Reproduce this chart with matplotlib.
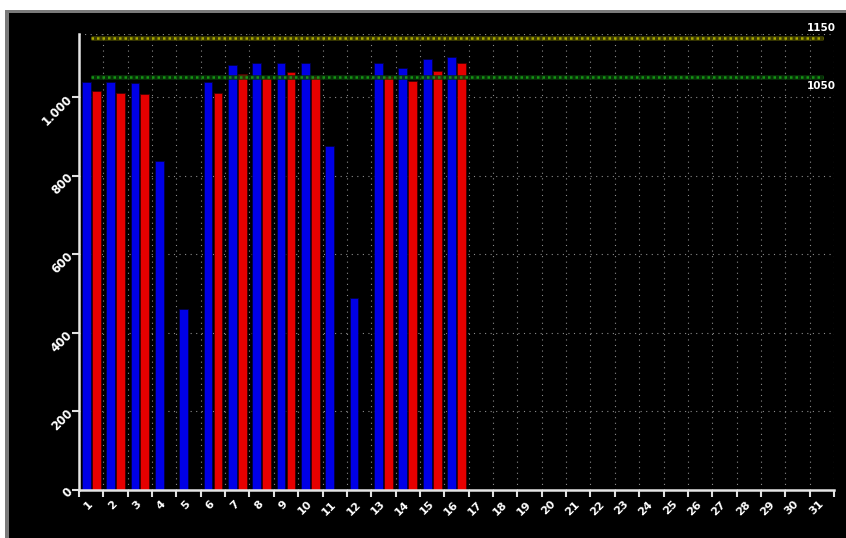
import matplotlib
matplotlib.use("Agg")
import matplotlib.pyplot as plt
from matplotlib.patches import Rectangle
from matplotlib.ticker import FuncFormatter, FixedLocator
import numpy as np

# Days of the month and the two readings per day
days = list(range(1, 32))
blue_values = [1039, 1038, 1036, 837, 460, 1037, 1081, 1085, 1086, 1087,
               875, 489, 1085, 1073, 1096, 1102]
red_values = [1016, 1010, 1008, None, None, 1010, 1059, 1047, 1064, 1052,
              None, None, 1052, 1040, 1067, 1087]
upper_limit = 1150
lower_limit = 1050
y_ticks = [0, 200, 400, 600, 800, 1000]

W, H = 846, 538
fig = plt.figure(figsize=(W / 100, H / 100), dpi=100, facecolor="white")

# Framed dark panel (behind the axes)
fig.patches.append(Rectangle((5 / W, 0), 1 - 5 / W, 1 - 9.5 / H,
                             transform=fig.transFigure, facecolor="#7a7a7a",
                             edgecolor="none", zorder=-2))
fig.patches.append(Rectangle((8.5 / W, 0), 1 - 8.5 / W, 1 - 13 / H,
                             transform=fig.transFigure, facecolor="black",
                             edgecolor="none", zorder=-1))

ax = fig.add_axes([79 / W, 1 - 490 / H, (834 - 79) / W, (490 - 34) / H])
ax.set_facecolor("black")
ax.patch.set_alpha(0)

n = len(days)
xb = np.arange(len(blue_values)) + 0.5
bw = 0.36
ax.bar(xb - 0.205, blue_values, width=bw, color="#0000e6",
       edgecolor="#000040", linewidth=0.6, zorder=3)
red_x = [x + 0.205 for x, v in zip(xb, red_values) if v is not None]
red_v = [v for v in red_values if v is not None]
ax.bar(red_x, red_v, width=bw, color="#e60000",
       edgecolor="#400000", linewidth=0.6, zorder=3)

ax.set_xlim(0, n)
ax.set_ylim(0, 1160)

# Reference limits
x0, x1 = 0.5, n - 0.45
for val, col, dcol in [(upper_limit, "#4a4a00", "#b4b400"),
                       (lower_limit, "#093a09", "#17a017")]:
    ax.plot([x0, x1], [val, val], color=col, linewidth=3.4, alpha=0.8,
            solid_capstyle="butt", zorder=4)
    ax.plot([x0, x1], [val, val], color=dcol, linewidth=1.8, alpha=0.9,
            linestyle=(0, (1, 1.2)), zorder=5)

ax.text(n + 0.07, upper_limit + 12, str(upper_limit), color="white",
        fontsize=7.5, fontweight="bold", ha="right", va="bottom", zorder=6,
        clip_on=False)
ax.text(n + 0.07, lower_limit - 10, str(lower_limit), color="white",
        fontsize=7.5, fontweight="bold", ha="right", va="top", zorder=6,
        clip_on=False)

# Grid on category boundaries and value ticks
for b in range(0, n + 1):
    ax.axvline(b, color="#8c8c8c", linewidth=0.8, linestyle=(0, (1, 4)),
               zorder=1)
for t in y_ticks[1:] + [1160]:
    ax.axhline(t, color="#8c8c8c", linewidth=0.8, linestyle=(0, (1, 4)),
               zorder=1)

ax.xaxis.set_major_locator(FixedLocator(range(0, n + 1)))
ax.set_xticklabels([])
ax.set_xticks([d - 0.5 for d in days], minor=True)
ax.set_xticklabels([str(d) for d in days], minor=True)
ax.tick_params(axis="x", which="minor", length=0, pad=9)
ax.tick_params(axis="x", which="major", length=5, width=1.5, color="#e0e0e0")
for lbl in ax.get_xticklabels(minor=True):
    lbl.set_rotation(45)
    lbl.set_rotation_mode("anchor")
    lbl.set_ha("right")
    lbl.set_va("center")
    lbl.set_color("white")
    lbl.set_fontsize(8)
    lbl.set_fontweight("bold")

ax.set_yticks(y_ticks)
ax.yaxis.set_major_formatter(FuncFormatter(
    lambda v, p: f"{int(v):,}".replace(",", ".")))
ax.tick_params(axis="y", length=5, width=1.5, color="#e0e0e0", pad=1)
for lbl in ax.get_yticklabels():
    lbl.set_rotation(45)
    lbl.set_rotation_mode("anchor")
    lbl.set_color("white")
    lbl.set_fontsize(8.5)
    lbl.set_fontweight("bold")
    lbl.set_va("center")
    lbl.set_ha("right")

for side in ["top", "right"]:
    ax.spines[side].set_visible(False)
for side in ["left", "bottom"]:
    ax.spines[side].set_color("#e6e6e6")
    ax.spines[side].set_linewidth(1.8)
    ax.spines[side].set_zorder(6)

fig.savefig("out.png", dpi=100, facecolor=fig.get_facecolor())
